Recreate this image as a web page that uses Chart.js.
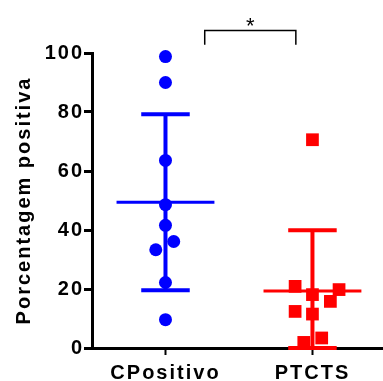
<!DOCTYPE html>
<html>
<head>
<meta charset="utf-8">
<script src="https://cdn.jsdelivr.net/npm/chart.js@4.4.1/dist/chart.umd.min.js"></script>
<style>
  html, body { margin: 0; padding: 0; background: #fff; }
</style>
</head>
<body>
<canvas id="myChart" width="383" height="381"></canvas>
<script>
// groups and the points
let groups = ["CPositivo", "PTCTS"];
let groupColors = ["#0000ff", "#ff0000"];

let cpositivoValues = [98.8, 90.0, 63.6, 48.6, 41.6, 36.1, 33.3, 22.2, 9.6];
let cpositivoJitter = [0, 0, 0, 0, 0, 0.056, -0.066, 0, 0];
let ptctsValues = [70.6, 20.9, 19.8, 18.1, 15.8, 12.4, 11.5, 3.4, 1.9];
let ptctsJitter = [0, -0.118, 0.181, 0, 0.122, -0.118, 0, 0.063, -0.059];

// mean and SD of each group
let means = [49.4, 19.3];
let sds = [29.8, 20.6];

let yTicks = [0, 20, 40, 60, 80, 100];

// significance bracket between the two groups
let bracketX = [1.267, 1.887];
let bracketY = [102.8, 107.6];
let starLabel = "*";

let font = "'Liberation Sans', Arial, sans-serif";

function pointsOf(values, jitter, pos) {
    return values.map((v, i) => ({ x: pos + jitter[i], y: v }));
}

function meanLine(i) {
    let pos = i + 1;
    return {
        data: [{ x: pos - 0.333, y: means[i] }, { x: pos + 0.333, y: means[i] }],
        showLine: true,
        borderColor: groupColors[i],
        borderWidth: 3,
        pointRadius: 0,
        clip: false
    };
}

function sdBar(i) {
    let pos = i + 1;
    let hi = means[i] + sds[i];
    let lo = Math.max(0, means[i] - sds[i]);
    return {
        data: [
            { x: pos - 0.165, y: hi }, { x: pos + 0.165, y: hi }, { x: pos, y: null },
            { x: pos, y: hi }, { x: pos, y: lo }, { x: pos, y: null },
            { x: pos - 0.165, y: lo }, { x: pos + 0.165, y: lo }
        ],
        showLine: true,
        spanGaps: false,
        borderColor: groupColors[i],
        borderWidth: 4,
        pointRadius: 0,
        clip: false
    };
}

// the reference text is a bit letter-spaced
let spacingPlugin = {
    id: "spacing",
    beforeUpdate(chart) { chart.ctx.letterSpacing = "2px"; },
    beforeDraw(chart) { chart.ctx.letterSpacing = "2px"; }
};

let starPlugin = {
    id: "star",
    afterDatasetsDraw(chart) {
        let ctx = chart.ctx;
        let xs = chart.scales.x, ys = chart.scales.y;
        ctx.save();
        ctx.letterSpacing = "0px";
        ctx.fillStyle = "#000";
        ctx.font = "22px " + font;
        ctx.textAlign = "center";
        ctx.textBaseline = "alphabetic";
        ctx.fillText(starLabel, xs.getPixelForValue((bracketX[0] + bracketX[1]) / 2), ys.getPixelForValue(bracketY[1]) + 2);
        ctx.restore();
    }
};

new Chart("myChart", {
    type: "scatter",
    data: {
        datasets: [
            sdBar(0),
            sdBar(1),
            meanLine(0),
            meanLine(1),
            {
                data: pointsOf(cpositivoValues, cpositivoJitter, 1),
                pointStyle: "circle",
                pointRadius: 6.5,
                backgroundColor: groupColors[0],
                borderWidth: 0,
                clip: false
            },
            {
                data: pointsOf(ptctsValues, ptctsJitter, 2),
                pointStyle: "rect",
                pointRadius: 9,
                backgroundColor: groupColors[1],
                borderWidth: 0,
                clip: false
            },
            {
                data: [
                    { x: bracketX[0], y: bracketY[0] }, { x: bracketX[0], y: bracketY[1] },
                    { x: bracketX[1], y: bracketY[1] }, { x: bracketX[1], y: bracketY[0] }
                ],
                showLine: true,
                borderColor: "#000",
                borderWidth: 1.5,
                pointRadius: 0,
                clip: false
            }
        ]
    },
    options: {
        responsive: false,
        animation: false,
        devicePixelRatio: 1,
        layout: { autoPadding: false, padding: { top: 53, right: 0, left: 0, bottom: 0 } },
        plugins: { legend: { display: false }, tooltip: { enabled: false } },
        scales: {
            x: {
                type: "linear",
                min: 0.5,
                max: 2.48,
                afterBuildTicks: (scale) => { scale.ticks = groups.map((g, i) => ({ value: i + 1 })); },
                afterFit: (scale) => { scale.height = 33; scale.paddingLeft = 0; scale.paddingRight = 0; },
                ticks: {
                    color: "#000",
                    font: { family: font, size: 20, weight: "bold" },
                    padding: 6,
                    maxRotation: 0,
                    callback: (v) => groups[v - 1]
                },
                grid: { drawOnChartArea: false, tickLength: 7, tickWidth: 2, tickColor: "#000" },
                border: { color: "#000", width: 3 }
            },
            y: {
                min: 0,
                max: 100,
                afterBuildTicks: (scale) => { scale.ticks = yTicks.map(v => ({ value: v })); },
                afterFit: (scale) => { scale.width = 92; scale.paddingTop = 0; scale.paddingBottom = 0; },
                ticks: {
                    color: "#000",
                    font: { family: font, size: 20, weight: "bold" },
                    padding: 0
                },
                grid: { drawOnChartArea: false, tickLength: 8, tickWidth: 3, tickColor: "#000" },
                border: { color: "#000", width: 3 },
                title: {
                    display: true,
                    text: "Porcentagem positiva",
                    color: "#000",
                    font: { family: font, size: 20, weight: "bold" },
                    padding: { top: 12, bottom: 0 }
                }
            }
        }
    },
    plugins: [spacingPlugin, starPlugin]
});
</script>
</body>
</html>
